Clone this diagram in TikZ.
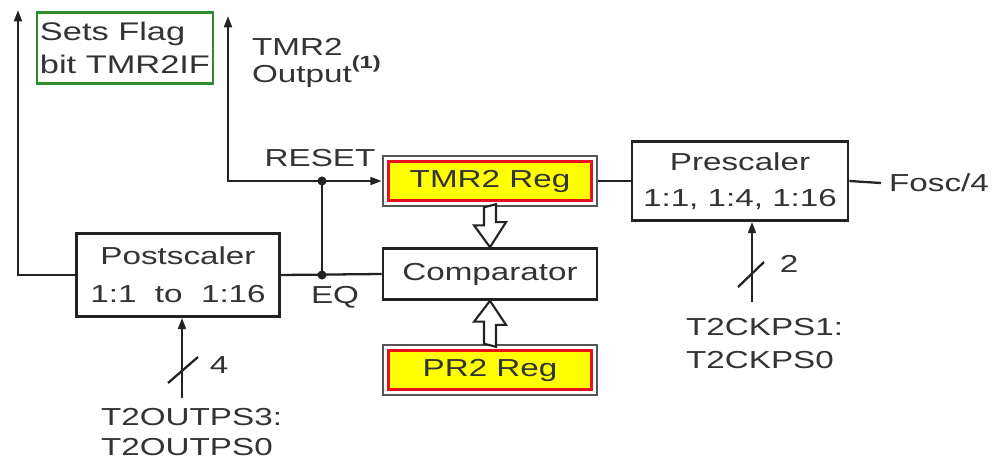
\documentclass[tikz,border=0pt]{standalone}
\usepackage{fontspec}
\setmainfont[FakeStretch=1.35]{Liberation Sans}
\usetikzlibrary{arrows.meta,calc}

\definecolor{txtgray}{HTML}{333333}
\definecolor{linegray}{HTML}{222222}
\definecolor{flaggreen}{HTML}{2E8B2E}
\definecolor{regyellow}{HTML}{FFFF00}
\definecolor{regred}{HTML}{E8101A}
\definecolor{framegray}{HTML}{555555}

\tikzset{
  lbl/.style={text=txtgray, font=\fontsize{14}{18}\selectfont, inner sep=0pt},
  blk/.style={lbl, draw=linegray, line width=1.5pt, fill=white, align=center},
  regblk/.style={blk, draw=framegray, minimum width=4.28cm, minimum height=1cm,
    path picture={\draw[regred, fill=regyellow, line width=1.8pt]
      ($(path picture bounding box.south west)+(3pt,3pt)$) rectangle
      ($(path picture bounding box.north east)+(-3pt,-3pt)$);}},
  fat/.style={draw=linegray, fill=white, line width=1.2pt, line join=miter}
}

\begin{document}
\begin{tikzpicture}[x=0.02cm, y=-0.02cm, >={Triangle[length=6.5pt,width=4.5pt]}, line width=1.3pt, linegray]
  \useasboundingbox (0,0) rectangle (995,460);
  % Blocks
  \node[blk, draw=flaggreen, align=left, minimum width=3.52cm, minimum height=1.42cm,
        font=\fontsize{14.5}{19}\selectfont] (flag) at (125,48) {Sets Flag\\bit TMR2IF};
  \node[blk, minimum width=4.06cm, minimum height=1.66cm, font=\fontsize{14}{21.5}\selectfont]
        (post) at (178,275) {Postscaler\\1:1~~to~~1:16};
  \node[regblk] (tmr) at (490,181) {TMR2 Reg};
  \node[blk, minimum width=4.28cm, minimum height=1.02cm] (cmp) at (490,274) {Comparator};
  \node[regblk] (pr2) at (490,370) {PR2 Reg};
  \node[blk, minimum width=4.32cm, minimum height=1.58cm, font=\fontsize{14}{20.5}\selectfont]
        (pre) at (740,181) {Prescaler\\1:1, 1:4, 1:16};
  % Labels
  \node[lbl, anchor=west, inner sep=4pt] (fosc) at (881,183) {Fosc/4};
  \node[lbl] (rst) at (320,158) {RESET};
  \node[lbl] (eq) at (335,297) {EQ};
  \node[lbl, align=left, anchor=north west, font=\fontsize{14}{15.5}\selectfont]
        (tout) at (251,37) {TMR2\\Output\raisebox{1.1ex}{\fontsize{10}{10}\selectfont\bfseries(1)}};
  \node[lbl, align=left, anchor=north west, font=\fontsize{14}{17}\selectfont]
        (outps) at (100,407) {T2OUTPS3:\\T2OUTPS0};
  \node[lbl, align=left, anchor=north west, font=\fontsize{14}{19}\selectfont]
        (ckps) at (685,317) {T2CKPS1:\\T2CKPS0};
  \node[lbl] (nout) at (219,365) {4};
  \node[lbl] (nck) at (789,264) {2};
  % Points
  \coordinate (flagup) at (18,10);
  \coordinate (tmrup) at (228,16);
  \coordinate (eqj) at (322,275);
  \coordinate (outin) at (182,398);
  \coordinate (ckin) at (752,302);
  % Connectors
  \draw[->] (post.west) -| (flagup);
  \draw[<->] (tmrup) |- (tmr.west);
  \draw (post.east) -- (cmp.west);
  \draw (eqj) -- (eqj |- tmr.west);
  \fill (eqj) circle (2.6pt);
  \fill (eqj |- tmr.west) circle (2.6pt);
  \draw (tmr.east) -- (pre.west);
  \draw (pre.east) -- (fosc.west);
  % Select lines
  \draw[->] (outin) -- (outin |- post.south);
  \draw (outin) ++(-14,-15) -- ++(30,-26);
  \draw[->] (ckin) -- (ckin |- pre.south);
  \draw (ckin) ++(-14,-15) -- ++(26,-25);
  % Data paths
  \draw[fat] (tmr.south) ++(-6,0) -- ++(0,18) -- ++(-10,0) -- (cmp.north)
    -- ++(16,-25) -- ++(-10,0) -- ++(0,-18) -- cycle;
  \draw[fat] (pr2.north) ++(-6,0) -- ++(0,-22) -- ++(-10,0) -- (cmp.south)
    -- ++(16,24) -- ++(-10,0) -- ++(0,22) -- cycle;
\end{tikzpicture}
\end{document}
